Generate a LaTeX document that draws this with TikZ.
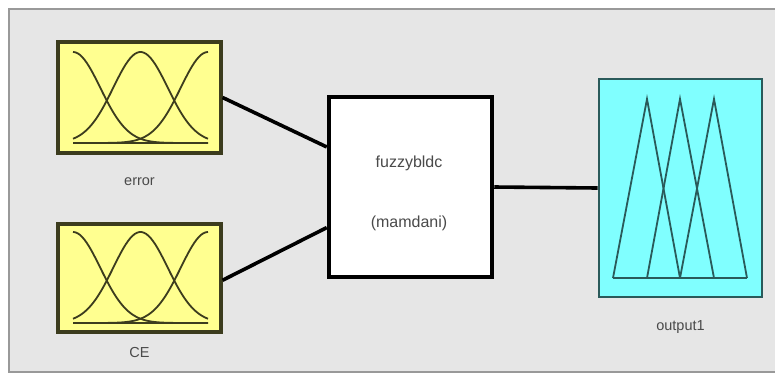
\documentclass[tikz,border=0pt]{standalone}
\usepackage{fontspec}
\setmainfont{Liberation Sans}
\usetikzlibrary{calc}
\definecolor{bg}{HTML}{E6E6E6}
\definecolor{yel}{HTML}{FFFF90}
\definecolor{yeledge}{HTML}{3C3C1E}
\definecolor{cyn}{HTML}{80FFFF}
\definecolor{cynedge}{HTML}{2A5A5A}
\definecolor{txt}{HTML}{4A4A4A}
\tikzset{
  mfbox/.style={draw=yeledge, fill=yel, line width=3.2pt, minimum width=163pt, inner sep=0pt},
  outbox/.style={draw=cynedge, fill=cyn, line width=2.6pt, minimum width=163pt, minimum height=218pt, inner sep=0pt},
  fisbox/.style={draw=black, fill=white, line width=4.5pt, minimum width=163pt, minimum height=180pt, inner sep=0pt},
  lbl/.style={text=txt, font=\fontsize{14.5}{17}\selectfont},
  conn/.style={draw=black, line width=3.6pt},
  gauss/.style={draw=yeledge, line width=1.8pt},
  tri/.style={draw=cynedge, line width=1.8pt},
}
\begin{document}
\begin{tikzpicture}[x=1pt,y=-1pt]
\useasboundingbox (0,0) rectangle (775,376);
\fill[white] (0,0) rectangle (775,376);
\filldraw[fill=bg, draw=gray!80, line width=1.8pt] (9,9) rectangle (790,372);

\node[mfbox, minimum height=111pt] (err) at (139.5,97.5) {};
\node[mfbox, minimum height=108pt] (ce) at (139.5,278) {};
\node[fisbox] (fz) at (410.5,187) {};
\node[outbox] (out) at (680.5,188) {};

\node[lbl] (errl) at (139.5,182) {error};
\node[lbl] (cel) at (139.5,352) {CE};
\node[lbl] (outl) at (680.5,327) {output1};
\node[lbl, font=\fontsize{16}{19}\selectfont] (fzn) at (409,163) {fuzzybldc};
\node[lbl, font=\fontsize{16}{19}\selectfont] (fzm) at (409,223) {(mamdani)};

% gaussian membership functions
\foreach \by in {143, 323}{
  \draw[gauss] (73,\by) -- (208,\by);
  \draw[gauss, smooth] plot[domain=0:135, samples=60] ({73+\x}, {\by-91*exp(-0.5*(\x/27.3)^2)});
  \draw[gauss, smooth] plot[domain=-67.5:67.5, samples=60] ({140.5+\x}, {\by-91*exp(-0.5*(\x/27.3)^2)});
  \draw[gauss, smooth] plot[domain=-135:0, samples=60] ({208+\x}, {\by-91*exp(-0.5*(\x/27.3)^2)});
}

% triangular membership functions
\draw[tri] (613,278) -- (747,278);
\draw[tri] (613,278) -- (647,99) -- (680,278);
\draw[tri] (647,278) -- (680,99) -- (714,278);
\draw[tri] (680,278) -- (714,99) -- (747,278);

\draw[conn] ($(err.north east)!0.5!(err.south east)$) -- ($(fz.north west)!0.283!(fz.south west)$);
\draw[conn] ($(ce.north east)!0.52!(ce.south east)$) -- ($(fz.north west)!0.72!(fz.south west)$);
\draw[conn] (fz.east) -- (out.west);
\end{tikzpicture}
\end{document}
